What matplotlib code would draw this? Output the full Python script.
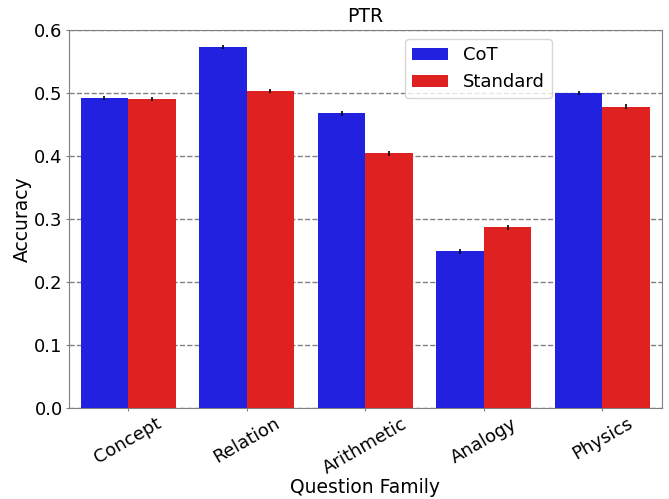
import numpy as np
import matplotlib.pyplot as plt

# accuracy per question family
families = ['Concept', 'Relation', 'Arithmetic', 'Analogy', 'Physics']
cot_acc = [0.492, 0.573, 0.468, 0.249, 0.500]
std_acc = [0.490, 0.503, 0.404, 0.287, 0.478]
cot_err = [0.003, 0.003, 0.004, 0.004, 0.003]
std_err = [0.003, 0.003, 0.004, 0.004, 0.004]

fig = plt.figure(figsize=(6.69, 4.99), dpi=100)
ax = fig.add_axes([0.103, 0.182, 0.886, 0.758])

x = np.arange(len(families))
w = 0.4
ax.bar(x - w / 2, cot_acc, w, yerr=cot_err, color='#2121df', label='CoT',
       error_kw=dict(ecolor='black', elinewidth=1.2, capsize=0), zorder=3)
ax.bar(x + w / 2, std_acc, w, yerr=std_err, color='#df2121', label='Standard',
       error_kw=dict(ecolor='black', elinewidth=1.2, capsize=0), zorder=3)

ax.set_xlim(-0.5, len(families) - 0.5)
ax.set_ylim(0, 0.6)
ticks = np.arange(0, 0.61, 0.1)
ax.set_yticks(ticks)
ax.set_yticklabels([f'{v:.1f}' for v in ticks])
ax.set_xticks(x)
ax.set_xticklabels(families, rotation=30)
ax.tick_params(labelsize=13, color='gray', length=2.5, pad=2)
ax.yaxis.grid(True, linestyle='--', color='gray', linewidth=1, zorder=0)
for s in ax.spines.values():
    s.set_color('gray')

ax.set_title('PTR', fontsize=13.5)
ax.set_xlabel('Question Family', fontsize=13.5, labelpad=1)
ax.set_ylabel('Accuracy', fontsize=13.5, labelpad=2)
ax.legend(fontsize=13, loc='upper left', bbox_to_anchor=(0.567, 0.976),
          borderaxespad=0)

fig.savefig('out.png', dpi=100)
